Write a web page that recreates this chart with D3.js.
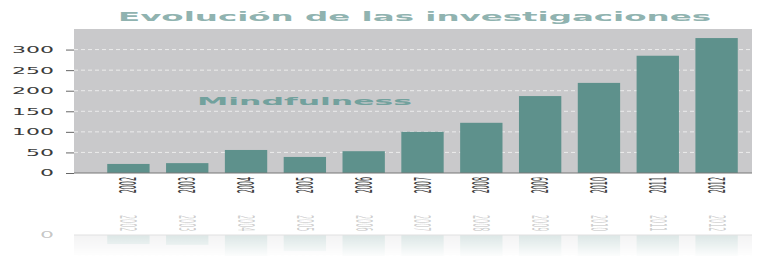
<!DOCTYPE html>
<html>
<head>
<meta charset="utf-8">
<script src="https://cdn.jsdelivr.net/npm/d3@7"></script>
<style>
  html, body { margin: 0; padding: 0; background: #fff; }
  svg { display: block; }
</style>
</head>
<body>
<div id="chart"></div>
<script>
// datos
const years = ['2002', '2003', '2004', '2005', '2006', '2007', '2008', '2009', '2010', '2011', '2012']
const studies = [22, 24, 56, 39, 53, 100, 122, 187, 219, 285, 328]
const yTicks = [0, 50, 100, 150, 200, 250, 300]
const title = 'Evolución de las investigaciones'
const seriesLabel = 'Mindfulness'

const width = 768
const height = 256
const plot = { left: 74, right: 752, top: 29, bottom: 173 }
const mirrorY = 204

const x = d3.scaleBand().domain(years).range([99, 746]).paddingInner(0.28).paddingOuter(0.14)
const y = d3.scaleLinear().domain([0, 350]).range([plot.bottom, plot.top])
// eje reflejado debajo del grafico
const yMirror = d3.scaleLinear().domain([0, 350]).range([2 * mirrorY - plot.bottom, 2 * mirrorY - plot.top])

const svg = d3.select('#chart').append('svg').attr('width', width).attr('height', height)

const defs = svg.append('defs')
const grad = defs
  .append('linearGradient')
  .attr('id', 'fade')
  .attr('gradientUnits', 'userSpaceOnUse')
  .attr('x1', 0).attr('x2', 0)
  .attr('y1', mirrorY).attr('y2', height)
grad.append('stop').attr('offset', 0).attr('stop-color', '#fff').attr('stop-opacity', 0.4)
grad.append('stop').attr('offset', 0.6).attr('stop-color', '#fff').attr('stop-opacity', 0.22)
grad.append('stop').attr('offset', 1).attr('stop-color', '#fff').attr('stop-opacity', 0.02)
defs
  .append('mask')
  .attr('id', 'fade-mask')
  .attr('maskUnits', 'userSpaceOnUse')
  .attr('x', 0).attr('y', 0).attr('width', width).attr('height', height)
  .append('rect')
  .attr('x', 0).attr('y', mirrorY)
  .attr('width', width).attr('height', height - mirrorY)
  .attr('fill', 'url(#fade)')

function drawMarks(g, ys) {
  const top = Math.min(ys(350), ys(0))
  g.append('rect')
    .attr('x', plot.left)
    .attr('y', top)
    .attr('width', plot.right - plot.left)
    .attr('height', plot.bottom - plot.top)
    .attr('fill', '#c9c9cb')

  // lineas de la cuadricula
  g.append('g')
    .selectAll('line')
    .data(yTicks.filter((d) => d > 0))
    .enter()
    .append('line')
    .attr('x1', plot.left)
    .attr('x2', plot.right)
    .attr('y1', (d) => ys(d))
    .attr('y2', (d) => ys(d))
    .attr('stroke', '#ececec')
    .attr('stroke-width', 1)
    .attr('stroke-dasharray', '4,3')

  g.append('g')
    .selectAll('rect')
    .data(studies)
    .enter()
    .append('rect')
    .attr('x', (d, i) => x(years[i]))
    .attr('y', (d) => Math.min(ys(d), ys(0)))
    .attr('width', x.bandwidth())
    .attr('height', (d) => Math.abs(ys(0) - ys(d)))
    .attr('fill', '#5e918c')

  g.append('line')
    .attr('x1', plot.left)
    .attr('x2', plot.right)
    .attr('y1', ys(0))
    .attr('y2', ys(0))
    .attr('stroke', '#777')
}

drawMarks(svg.append('g'), y)
drawMarks(svg.append('g').attr('mask', 'url(#fade-mask)'), yMirror)

const yAxis = d3.axisLeft(y).tickValues(yTicks).tickSize(8).tickPadding(12)
const ay = svg.append('g').attr('transform', `translate(${plot.left},0)`).call(yAxis)
ay.select('.domain').remove()
ay.selectAll('.tick line').attr('stroke', '#666')
ay.selectAll('.tick text')
  .attr('fill', '#3a3a3a')
  .attr('font-family', 'DejaVu Sans, sans-serif')
  .attr('font-size', 9)
  .attr('textLength', (d) => String(d).length * 14)
  .attr('lengthAdjust', 'spacingAndGlyphs')

// "0" reflejado
svg
  .append('text')
  .attr('x', plot.left - 20)
  .attr('y', yMirror(0))
  .attr('dy', '0.32em')
  .attr('text-anchor', 'end')
  .attr('textLength', 14)
  .attr('lengthAdjust', 'spacingAndGlyphs')
  .attr('font-family', 'DejaVu Sans, sans-serif')
  .attr('font-size', 9)
  .attr('fill', '#3a3a3a')
  .attr('fill-opacity', 0.3)
  .text(yTicks[0])

// etiquetas de anos: giradas y ensanchadas como en el original
function yearLabels(g, top, rot, opacity) {
  g.selectAll('text')
    .data(years)
    .enter()
    .append('text')
    .attr('transform', (d) => `translate(${x(d) + x.bandwidth() / 2},${top}) rotate(${rot}) scale(0.8,2.8)`)
    .attr('text-anchor', rot < 0 ? 'end' : 'start')
    .attr('dy', '0.36em')
    .attr('font-family', 'DejaVu Sans, sans-serif')
    .attr('font-size', 8)
    .attr('fill', '#3a3a3a')
    .attr('fill-opacity', opacity)
    .text((d) => d)
}

yearLabels(svg.append('g'), plot.bottom + 4, -90, 1)
yearLabels(svg.append('g'), 2 * mirrorY - plot.bottom - 20, 90, 0.25)

svg
  .append('text')
  .attr('x', 118)
  .attr('y', 21)
  .attr('textLength', 593)
  .attr('lengthAdjust', 'spacingAndGlyphs')
  .attr('font-family', 'DejaVu Sans, sans-serif')
  .attr('font-weight', 'bold')
  .attr('font-size', 13)
  .attr('fill', '#90b3b0')
  .text(title)

svg
  .append('text')
  .attr('x', 197)
  .attr('y', 105)
  .attr('textLength', 215)
  .attr('lengthAdjust', 'spacingAndGlyphs')
  .attr('font-family', 'DejaVu Sans, sans-serif')
  .attr('font-weight', 'bold')
  .attr('font-size', 11)
  .attr('fill', '#72a19d')
  .text(seriesLabel)
</script>
</body>
</html>
